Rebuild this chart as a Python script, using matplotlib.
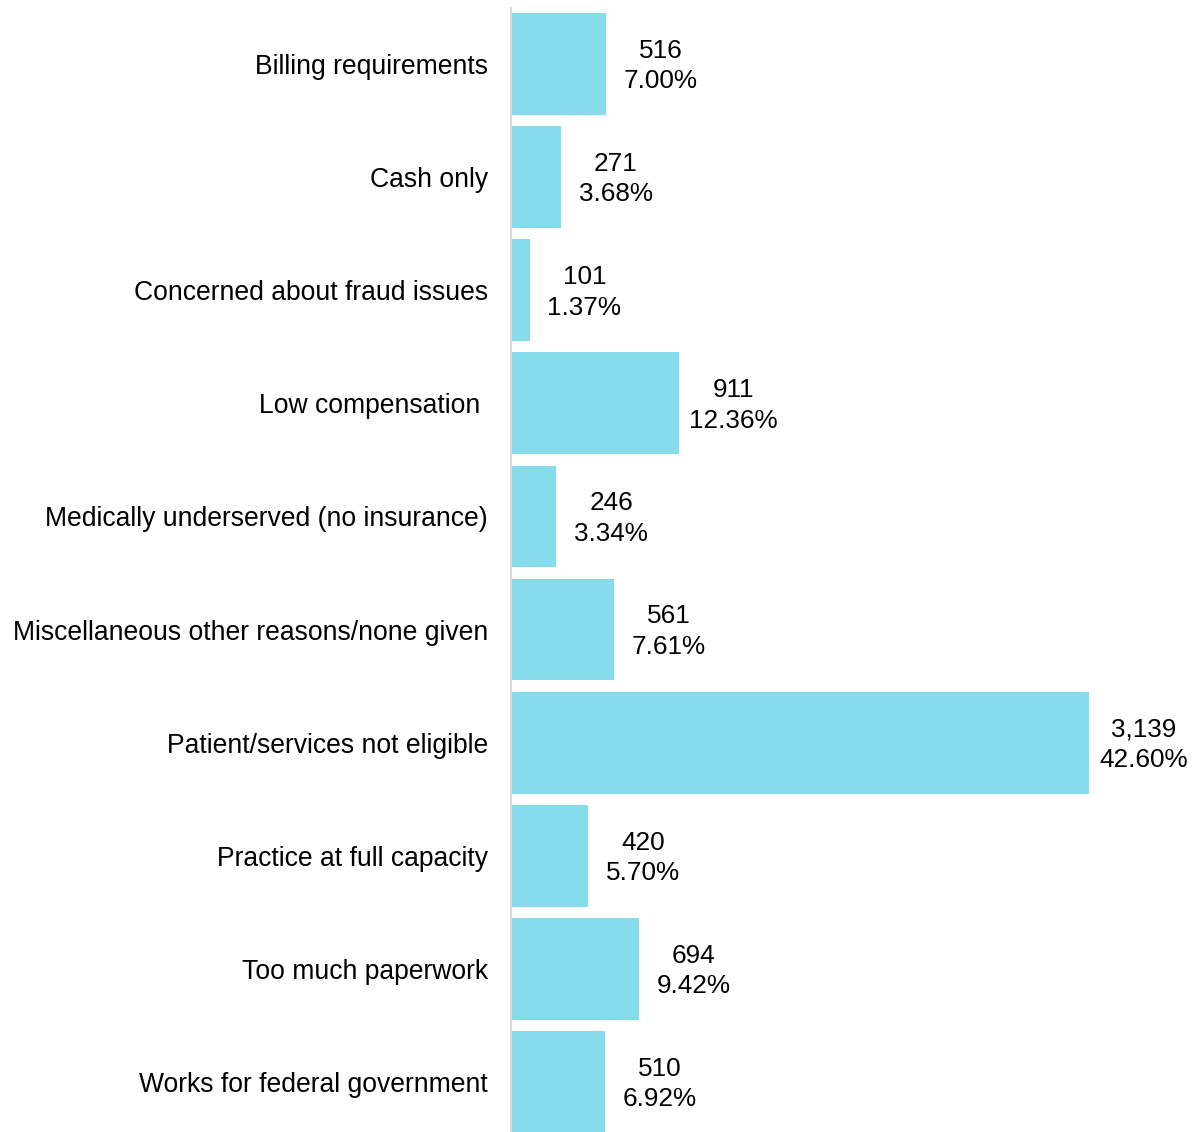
import matplotlib.pyplot as plt

categories = [
    "Billing requirements",
    "Cash only",
    "Concerned about fraud issues",
    "Low compensation ",
    "Medically underserved (no insurance)",
    "Miscellaneous other reasons/none given",
    "Patient/services not eligible",
    "Practice at full capacity",
    "Too much paperwork",
    "Works for federal government",
]
counts = [516, 271, 101, 911, 246, 561, 3139, 420, 694, 510]
percents = [7.00, 3.68, 1.37, 12.36, 3.34, 7.61, 42.60, 5.70, 9.42, 6.92]

plt.rcParams['font.family'] = ['Liberation Sans', 'DejaVu Sans']

fig = plt.figure(figsize=(11.95, 11.32), dpi=100)
ax = fig.add_axes([511 / 1195, 0, 684 / 1195, 1 - 8 / 1132])

ypos = list(range(len(categories)))
ax.barh(ypos, counts, height=0.9, color='#87dcec')

for y, c, p in zip(ypos, counts, percents):
    ax.annotate(f"{c:,}\n{p:.2f}%", xy=(c, y), xytext=(39.5, -1.5), textcoords='offset points',
                ha='center', va='center', fontsize=18.8, linespacing=1.34)

ax.set_xlim(0, 3715)
ax.set_ylim(9.442, -0.495)
ax.set_yticks(ypos)
ax.set_yticklabels(categories, fontsize=19.1)
ax.tick_params(axis='y', length=0, pad=16.5)
ax.set_xticks([])
for s in ['top', 'right', 'bottom']:
    ax.spines[s].set_visible(False)
ax.spines['left'].set_color('#d9d9d9')
ax.spines['left'].set_linewidth(1.5)

fig.savefig('out.png', dpi=100)
